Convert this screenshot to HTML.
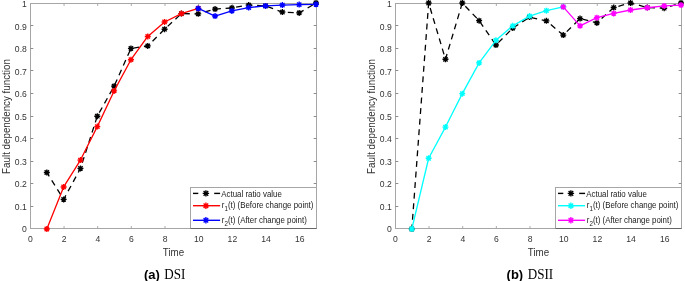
<!DOCTYPE html>
<html><head><meta charset="utf-8"><style>
html,body{margin:0;padding:0;background:#fff;}
body{width:685px;height:281px;overflow:hidden;}
svg{display:block;will-change:transform;}
.tk{font-family:"Liberation Sans",sans-serif;font-size:8.6px;fill:#333333;}
.lb{font-family:"Liberation Sans",sans-serif;font-size:9.8px;fill:#333333;}
.lg{font-family:"Liberation Sans",sans-serif;font-size:7.9px;fill:#1a1a1a;}
.cap{font-family:"Liberation Serif",serif;font-size:13.1px;fill:#000;}
.capb{font-family:"Liberation Sans",sans-serif;font-weight:bold;font-size:13px;fill:#000;}
</style></head><body>
<svg width="685" height="281" viewBox="0 0 685 281">
<rect x="30.5" y="3.5" width="286.0" height="225.0" fill="none" stroke="#a6a6a6" stroke-width="1"/><text transform="translate(26.80,232.20) scale(1,1.13)" text-anchor="end" class="tk">0</text><line x1="30.5" y1="206.50" x2="33.3" y2="206.50" stroke="#8c8c8c"/><line x1="316.5" y1="206.50" x2="313.7" y2="206.50" stroke="#8c8c8c"/><text transform="translate(26.80,209.70) scale(1,1.13)" text-anchor="end" class="tk">0.1</text><line x1="30.5" y1="183.50" x2="33.3" y2="183.50" stroke="#8c8c8c"/><line x1="316.5" y1="183.50" x2="313.7" y2="183.50" stroke="#8c8c8c"/><text transform="translate(26.80,187.20) scale(1,1.13)" text-anchor="end" class="tk">0.2</text><line x1="30.5" y1="161.50" x2="33.3" y2="161.50" stroke="#8c8c8c"/><line x1="316.5" y1="161.50" x2="313.7" y2="161.50" stroke="#8c8c8c"/><text transform="translate(26.80,164.70) scale(1,1.13)" text-anchor="end" class="tk">0.3</text><line x1="30.5" y1="138.50" x2="33.3" y2="138.50" stroke="#8c8c8c"/><line x1="316.5" y1="138.50" x2="313.7" y2="138.50" stroke="#8c8c8c"/><text transform="translate(26.80,142.20) scale(1,1.13)" text-anchor="end" class="tk">0.4</text><line x1="30.5" y1="116.50" x2="33.3" y2="116.50" stroke="#8c8c8c"/><line x1="316.5" y1="116.50" x2="313.7" y2="116.50" stroke="#8c8c8c"/><text transform="translate(26.80,119.70) scale(1,1.13)" text-anchor="end" class="tk">0.5</text><line x1="30.5" y1="93.50" x2="33.3" y2="93.50" stroke="#8c8c8c"/><line x1="316.5" y1="93.50" x2="313.7" y2="93.50" stroke="#8c8c8c"/><text transform="translate(26.80,97.20) scale(1,1.13)" text-anchor="end" class="tk">0.6</text><line x1="30.5" y1="70.50" x2="33.3" y2="70.50" stroke="#8c8c8c"/><line x1="316.5" y1="70.50" x2="313.7" y2="70.50" stroke="#8c8c8c"/><text transform="translate(26.80,74.70) scale(1,1.13)" text-anchor="end" class="tk">0.7</text><line x1="30.5" y1="48.50" x2="33.3" y2="48.50" stroke="#8c8c8c"/><line x1="316.5" y1="48.50" x2="313.7" y2="48.50" stroke="#8c8c8c"/><text transform="translate(26.80,52.20) scale(1,1.13)" text-anchor="end" class="tk">0.8</text><line x1="30.5" y1="25.50" x2="33.3" y2="25.50" stroke="#8c8c8c"/><line x1="316.5" y1="25.50" x2="313.7" y2="25.50" stroke="#8c8c8c"/><text transform="translate(26.80,29.70) scale(1,1.13)" text-anchor="end" class="tk">0.9</text><text transform="translate(26.80,7.20) scale(1,1.13)" text-anchor="end" class="tk">1</text><text transform="translate(30.50,241.70) scale(1,1.13)" text-anchor="middle" class="tk">0</text><line x1="64.05" y1="228.5" x2="64.05" y2="226.1" stroke="#a6a6a6"/><line x1="64.05" y1="3.5" x2="64.05" y2="5.9" stroke="#a6a6a6"/><text transform="translate(64.15,241.70) scale(1,1.13)" text-anchor="middle" class="tk">2</text><line x1="97.69" y1="228.5" x2="97.69" y2="226.1" stroke="#a6a6a6"/><line x1="97.69" y1="3.5" x2="97.69" y2="5.9" stroke="#a6a6a6"/><text transform="translate(97.79,241.70) scale(1,1.13)" text-anchor="middle" class="tk">4</text><line x1="131.34" y1="228.5" x2="131.34" y2="226.1" stroke="#a6a6a6"/><line x1="131.34" y1="3.5" x2="131.34" y2="5.9" stroke="#a6a6a6"/><text transform="translate(131.44,241.70) scale(1,1.13)" text-anchor="middle" class="tk">6</text><line x1="164.99" y1="228.5" x2="164.99" y2="226.1" stroke="#a6a6a6"/><line x1="164.99" y1="3.5" x2="164.99" y2="5.9" stroke="#a6a6a6"/><text transform="translate(165.09,241.70) scale(1,1.13)" text-anchor="middle" class="tk">8</text><line x1="198.64" y1="228.5" x2="198.64" y2="226.1" stroke="#a6a6a6"/><line x1="198.64" y1="3.5" x2="198.64" y2="5.9" stroke="#a6a6a6"/><text transform="translate(198.74,241.70) scale(1,1.13)" text-anchor="middle" class="tk">10</text><line x1="232.28" y1="228.5" x2="232.28" y2="226.1" stroke="#a6a6a6"/><line x1="232.28" y1="3.5" x2="232.28" y2="5.9" stroke="#a6a6a6"/><text transform="translate(232.38,241.70) scale(1,1.13)" text-anchor="middle" class="tk">12</text><line x1="265.93" y1="228.5" x2="265.93" y2="226.1" stroke="#a6a6a6"/><line x1="265.93" y1="3.5" x2="265.93" y2="5.9" stroke="#a6a6a6"/><text transform="translate(266.03,241.70) scale(1,1.13)" text-anchor="middle" class="tk">14</text><line x1="299.58" y1="228.5" x2="299.58" y2="226.1" stroke="#a6a6a6"/><line x1="299.58" y1="3.5" x2="299.58" y2="5.9" stroke="#a6a6a6"/><text transform="translate(299.68,241.70) scale(1,1.13)" text-anchor="middle" class="tk">16</text><text transform="translate(173.50,255.6) scale(1,1.09)" text-anchor="middle" class="lb">Time</text><text x="0" y="0" transform="translate(10.40,116.50) rotate(-90) scale(1,1.18)" text-anchor="middle" class="lb">Fault dependency function</text><polyline points="46.82,172.50 63.65,199.39 80.47,168.43 97.29,116.23 114.12,86.17 130.94,48.43 147.76,45.94 164.59,29.22 181.41,13.62 198.24,13.85 215.06,9.10 231.88,7.97 248.71,5.03 265.53,5.94 282.35,12.04 299.18,12.94 316.00,3.00" fill="none" stroke="#000" stroke-width="1.3" stroke-dasharray="5.9,4.7" stroke-dashoffset="1.3" stroke-linejoin="round"/><path d="M43.82,172.50H49.82M46.82,169.50V175.50M44.66,170.34L48.98,174.66M44.66,174.66L48.98,170.34" stroke="#000" stroke-width="1.35" fill="none"/><circle cx="46.82" cy="172.50" r="1.50" fill="#000"/><path d="M60.65,199.39H66.65M63.65,196.39V202.39M61.49,197.23L65.81,201.55M61.49,201.55L65.81,197.23" stroke="#000" stroke-width="1.35" fill="none"/><circle cx="63.65" cy="199.39" r="1.50" fill="#000"/><path d="M77.47,168.43H83.47M80.47,165.43V171.43M78.31,166.27L82.63,170.59M78.31,170.59L82.63,166.27" stroke="#000" stroke-width="1.35" fill="none"/><circle cx="80.47" cy="168.43" r="1.50" fill="#000"/><path d="M94.29,116.23H100.29M97.29,113.23V119.23M95.13,114.07L99.45,118.39M95.13,118.39L99.45,114.07" stroke="#000" stroke-width="1.35" fill="none"/><circle cx="97.29" cy="116.23" r="1.50" fill="#000"/><path d="M111.12,86.17H117.12M114.12,83.17V89.17M111.96,84.01L116.28,88.33M111.96,88.33L116.28,84.01" stroke="#000" stroke-width="1.35" fill="none"/><circle cx="114.12" cy="86.17" r="1.50" fill="#000"/><path d="M127.94,48.43H133.94M130.94,45.43V51.43M128.78,46.27L133.10,50.59M128.78,50.59L133.10,46.27" stroke="#000" stroke-width="1.35" fill="none"/><circle cx="130.94" cy="48.43" r="1.50" fill="#000"/><path d="M144.76,45.94H150.76M147.76,42.94V48.94M145.60,43.78L149.92,48.10M145.60,48.10L149.92,43.78" stroke="#000" stroke-width="1.35" fill="none"/><circle cx="147.76" cy="45.94" r="1.50" fill="#000"/><path d="M161.59,29.22H167.59M164.59,26.22V32.22M162.43,27.06L166.75,31.38M162.43,31.38L166.75,27.06" stroke="#000" stroke-width="1.35" fill="none"/><circle cx="164.59" cy="29.22" r="1.50" fill="#000"/><path d="M178.41,13.62H184.41M181.41,10.62V16.62M179.25,11.46L183.57,15.78M179.25,15.78L183.57,11.46" stroke="#000" stroke-width="1.35" fill="none"/><circle cx="181.41" cy="13.62" r="1.50" fill="#000"/><path d="M195.24,13.85H201.24M198.24,10.85V16.85M196.08,11.69L200.40,16.01M196.08,16.01L200.40,11.69" stroke="#000" stroke-width="1.35" fill="none"/><circle cx="198.24" cy="13.85" r="1.50" fill="#000"/><path d="M212.06,9.10H218.06M215.06,6.10V12.10M212.90,6.94L217.22,11.26M212.90,11.26L217.22,6.94" stroke="#000" stroke-width="1.35" fill="none"/><circle cx="215.06" cy="9.10" r="1.50" fill="#000"/><path d="M228.88,7.97H234.88M231.88,4.97V10.97M229.72,5.81L234.04,10.13M229.72,10.13L234.04,5.81" stroke="#000" stroke-width="1.35" fill="none"/><circle cx="231.88" cy="7.97" r="1.50" fill="#000"/><path d="M245.71,5.03H251.71M248.71,2.03V8.03M246.55,2.87L250.87,7.19M246.55,7.19L250.87,2.87" stroke="#000" stroke-width="1.35" fill="none"/><circle cx="248.71" cy="5.03" r="1.50" fill="#000"/><path d="M262.53,5.94H268.53M265.53,2.94V8.94M263.37,3.78L267.69,8.10M263.37,8.10L267.69,3.78" stroke="#000" stroke-width="1.35" fill="none"/><circle cx="265.53" cy="5.94" r="1.50" fill="#000"/><path d="M279.35,12.04H285.35M282.35,9.04V15.04M280.19,9.88L284.51,14.20M280.19,14.20L284.51,9.88" stroke="#000" stroke-width="1.35" fill="none"/><circle cx="282.35" cy="12.04" r="1.50" fill="#000"/><path d="M296.18,12.94H302.18M299.18,9.94V15.94M297.02,10.78L301.34,15.10M297.02,15.10L301.34,10.78" stroke="#000" stroke-width="1.35" fill="none"/><circle cx="299.18" cy="12.94" r="1.50" fill="#000"/><path d="M313.00,3.00H319.00M316.00,0.00V6.00M313.84,0.84L318.16,5.16M313.84,5.16L318.16,0.84" stroke="#000" stroke-width="1.35" fill="none"/><circle cx="316.00" cy="3.00" r="1.50" fill="#000"/><polyline points="46.82,229.00 63.65,186.96 80.47,160.07 97.29,126.62 114.12,90.91 130.94,59.73 147.76,36.45 164.59,21.98 181.41,13.62 198.24,8.42" fill="none" stroke="#ff0000" stroke-width="1.3" stroke-linejoin="round"/><path d="M43.82,229.00H49.82M46.82,226.00V232.00M44.66,226.84L48.98,231.16M44.66,231.16L48.98,226.84" stroke="#ff0000" stroke-width="1.35" fill="none"/><circle cx="46.82" cy="229.00" r="1.50" fill="#ff0000"/><path d="M60.65,186.96H66.65M63.65,183.96V189.96M61.49,184.80L65.81,189.12M61.49,189.12L65.81,184.80" stroke="#ff0000" stroke-width="1.35" fill="none"/><circle cx="63.65" cy="186.96" r="1.50" fill="#ff0000"/><path d="M77.47,160.07H83.47M80.47,157.07V163.07M78.31,157.91L82.63,162.23M78.31,162.23L82.63,157.91" stroke="#ff0000" stroke-width="1.35" fill="none"/><circle cx="80.47" cy="160.07" r="1.50" fill="#ff0000"/><path d="M94.29,126.62H100.29M97.29,123.62V129.62M95.13,124.46L99.45,128.78M95.13,128.78L99.45,124.46" stroke="#ff0000" stroke-width="1.35" fill="none"/><circle cx="97.29" cy="126.62" r="1.50" fill="#ff0000"/><path d="M111.12,90.91H117.12M114.12,87.91V93.91M111.96,88.75L116.28,93.07M111.96,93.07L116.28,88.75" stroke="#ff0000" stroke-width="1.35" fill="none"/><circle cx="114.12" cy="90.91" r="1.50" fill="#ff0000"/><path d="M127.94,59.73H133.94M130.94,56.73V62.73M128.78,57.57L133.10,61.89M128.78,61.89L133.10,57.57" stroke="#ff0000" stroke-width="1.35" fill="none"/><circle cx="130.94" cy="59.73" r="1.50" fill="#ff0000"/><path d="M144.76,36.45H150.76M147.76,33.45V39.45M145.60,34.29L149.92,38.61M145.60,38.61L149.92,34.29" stroke="#ff0000" stroke-width="1.35" fill="none"/><circle cx="147.76" cy="36.45" r="1.50" fill="#ff0000"/><path d="M161.59,21.98H167.59M164.59,18.98V24.98M162.43,19.82L166.75,24.14M162.43,24.14L166.75,19.82" stroke="#ff0000" stroke-width="1.35" fill="none"/><circle cx="164.59" cy="21.98" r="1.50" fill="#ff0000"/><path d="M178.41,13.62H184.41M181.41,10.62V16.62M179.25,11.46L183.57,15.78M179.25,15.78L183.57,11.46" stroke="#ff0000" stroke-width="1.35" fill="none"/><circle cx="181.41" cy="13.62" r="1.50" fill="#ff0000"/><path d="M195.24,8.42H201.24M198.24,5.42V11.42M196.08,6.26L200.40,10.58M196.08,10.58L200.40,6.26" stroke="#ff0000" stroke-width="1.35" fill="none"/><circle cx="198.24" cy="8.42" r="1.50" fill="#ff0000"/><polyline points="198.24,8.42 215.06,16.11 231.88,10.91 248.71,7.52 265.53,5.94 282.35,5.03 299.18,4.58 316.00,4.36" fill="none" stroke="#0000ff" stroke-width="1.3" stroke-linejoin="round"/><path d="M195.24,8.42H201.24M198.24,5.42V11.42M196.08,6.26L200.40,10.58M196.08,10.58L200.40,6.26" stroke="#0000ff" stroke-width="1.35" fill="none"/><circle cx="198.24" cy="8.42" r="1.50" fill="#0000ff"/><path d="M212.06,16.11H218.06M215.06,13.11V19.11M212.90,13.95L217.22,18.27M212.90,18.27L217.22,13.95" stroke="#0000ff" stroke-width="1.35" fill="none"/><circle cx="215.06" cy="16.11" r="1.50" fill="#0000ff"/><path d="M228.88,10.91H234.88M231.88,7.91V13.91M229.72,8.75L234.04,13.07M229.72,13.07L234.04,8.75" stroke="#0000ff" stroke-width="1.35" fill="none"/><circle cx="231.88" cy="10.91" r="1.50" fill="#0000ff"/><path d="M245.71,7.52H251.71M248.71,4.52V10.52M246.55,5.36L250.87,9.68M246.55,9.68L250.87,5.36" stroke="#0000ff" stroke-width="1.35" fill="none"/><circle cx="248.71" cy="7.52" r="1.50" fill="#0000ff"/><path d="M262.53,5.94H268.53M265.53,2.94V8.94M263.37,3.78L267.69,8.10M263.37,8.10L267.69,3.78" stroke="#0000ff" stroke-width="1.35" fill="none"/><circle cx="265.53" cy="5.94" r="1.50" fill="#0000ff"/><path d="M279.35,5.03H285.35M282.35,2.03V8.03M280.19,2.87L284.51,7.19M280.19,7.19L284.51,2.87" stroke="#0000ff" stroke-width="1.35" fill="none"/><circle cx="282.35" cy="5.03" r="1.50" fill="#0000ff"/><path d="M296.18,4.58H302.18M299.18,1.58V7.58M297.02,2.42L301.34,6.74M297.02,6.74L301.34,2.42" stroke="#0000ff" stroke-width="1.35" fill="none"/><circle cx="299.18" cy="4.58" r="1.50" fill="#0000ff"/><path d="M313.00,4.36H319.00M316.00,1.36V7.36M313.84,2.20L318.16,6.52M313.84,6.52L318.16,2.20" stroke="#0000ff" stroke-width="1.35" fill="none"/><circle cx="316.00" cy="4.36" r="1.50" fill="#0000ff"/><rect x="190.5" y="187.5" width="126.0" height="41" fill="#fff" stroke="#a6a6a6" stroke-width="1"/><line x1="190.5" y1="228.5" x2="316.5" y2="228.5" stroke="#666" stroke-width="1"/><line x1="193.0" y1="193.4" x2="198.3" y2="193.4" stroke="#000" stroke-width="1.4"/><line x1="214.2" y1="193.4" x2="220.1" y2="193.4" stroke="#000" stroke-width="1.4"/><path d="M202.70,193.40H209.10M205.90,190.20V196.60M203.60,191.10L208.20,195.70M203.60,195.70L208.20,191.10" stroke="#000" stroke-width="1.35" fill="none"/><circle cx="205.90" cy="193.40" r="1.60" fill="#000"/><text transform="translate(221.30,196.80) scale(1,1.12)" class="lg">Actual ratio value</text><line x1="193.0" y1="205.7" x2="220.1" y2="205.7" stroke="#ff0000" stroke-width="1.4"/><path d="M202.70,205.70H209.10M205.90,202.50V208.90M203.60,203.40L208.20,208.00M203.60,208.00L208.20,203.40" stroke="#ff0000" stroke-width="1.35" fill="none"/><circle cx="205.90" cy="205.70" r="1.60" fill="#ff0000"/><text transform="translate(221.80,207.90) scale(1,1.12)" class="lg">r<tspan dy="3.2" font-size="6.2">1</tspan><tspan dy="-3.2">(t) (Before change point)</tspan></text><line x1="193.0" y1="220.3" x2="220.1" y2="220.3" stroke="#0000ff" stroke-width="1.4"/><path d="M202.70,220.30H209.10M205.90,217.10V223.50M203.60,218.00L208.20,222.60M203.60,222.60L208.20,218.00" stroke="#0000ff" stroke-width="1.35" fill="none"/><circle cx="205.90" cy="220.30" r="1.60" fill="#0000ff"/><text transform="translate(221.80,222.50) scale(1,1.12)" class="lg">r<tspan dy="3.2" font-size="6.2">2</tspan><tspan dy="-3.2">(t) (After change point)</tspan></text><rect x="395.5" y="3.5" width="286.0" height="225.0" fill="none" stroke="#a6a6a6" stroke-width="1"/><text transform="translate(391.80,232.20) scale(1,1.13)" text-anchor="end" class="tk">0</text><line x1="395.5" y1="206.50" x2="398.3" y2="206.50" stroke="#8c8c8c"/><line x1="681.5" y1="206.50" x2="678.7" y2="206.50" stroke="#8c8c8c"/><text transform="translate(391.80,209.70) scale(1,1.13)" text-anchor="end" class="tk">0.1</text><line x1="395.5" y1="183.50" x2="398.3" y2="183.50" stroke="#8c8c8c"/><line x1="681.5" y1="183.50" x2="678.7" y2="183.50" stroke="#8c8c8c"/><text transform="translate(391.80,187.20) scale(1,1.13)" text-anchor="end" class="tk">0.2</text><line x1="395.5" y1="161.50" x2="398.3" y2="161.50" stroke="#8c8c8c"/><line x1="681.5" y1="161.50" x2="678.7" y2="161.50" stroke="#8c8c8c"/><text transform="translate(391.80,164.70) scale(1,1.13)" text-anchor="end" class="tk">0.3</text><line x1="395.5" y1="138.50" x2="398.3" y2="138.50" stroke="#8c8c8c"/><line x1="681.5" y1="138.50" x2="678.7" y2="138.50" stroke="#8c8c8c"/><text transform="translate(391.80,142.20) scale(1,1.13)" text-anchor="end" class="tk">0.4</text><line x1="395.5" y1="116.50" x2="398.3" y2="116.50" stroke="#8c8c8c"/><line x1="681.5" y1="116.50" x2="678.7" y2="116.50" stroke="#8c8c8c"/><text transform="translate(391.80,119.70) scale(1,1.13)" text-anchor="end" class="tk">0.5</text><line x1="395.5" y1="93.50" x2="398.3" y2="93.50" stroke="#8c8c8c"/><line x1="681.5" y1="93.50" x2="678.7" y2="93.50" stroke="#8c8c8c"/><text transform="translate(391.80,97.20) scale(1,1.13)" text-anchor="end" class="tk">0.6</text><line x1="395.5" y1="70.50" x2="398.3" y2="70.50" stroke="#8c8c8c"/><line x1="681.5" y1="70.50" x2="678.7" y2="70.50" stroke="#8c8c8c"/><text transform="translate(391.80,74.70) scale(1,1.13)" text-anchor="end" class="tk">0.7</text><line x1="395.5" y1="48.50" x2="398.3" y2="48.50" stroke="#8c8c8c"/><line x1="681.5" y1="48.50" x2="678.7" y2="48.50" stroke="#8c8c8c"/><text transform="translate(391.80,52.20) scale(1,1.13)" text-anchor="end" class="tk">0.8</text><line x1="395.5" y1="25.50" x2="398.3" y2="25.50" stroke="#8c8c8c"/><line x1="681.5" y1="25.50" x2="678.7" y2="25.50" stroke="#8c8c8c"/><text transform="translate(391.80,29.70) scale(1,1.13)" text-anchor="end" class="tk">0.9</text><text transform="translate(391.80,7.20) scale(1,1.13)" text-anchor="end" class="tk">1</text><text transform="translate(395.50,241.70) scale(1,1.13)" text-anchor="middle" class="tk">0</text><line x1="429.05" y1="228.5" x2="429.05" y2="226.1" stroke="#a6a6a6"/><line x1="429.05" y1="3.5" x2="429.05" y2="5.9" stroke="#a6a6a6"/><text transform="translate(429.15,241.70) scale(1,1.13)" text-anchor="middle" class="tk">2</text><line x1="462.69" y1="228.5" x2="462.69" y2="226.1" stroke="#a6a6a6"/><line x1="462.69" y1="3.5" x2="462.69" y2="5.9" stroke="#a6a6a6"/><text transform="translate(462.79,241.70) scale(1,1.13)" text-anchor="middle" class="tk">4</text><line x1="496.34" y1="228.5" x2="496.34" y2="226.1" stroke="#a6a6a6"/><line x1="496.34" y1="3.5" x2="496.34" y2="5.9" stroke="#a6a6a6"/><text transform="translate(496.44,241.70) scale(1,1.13)" text-anchor="middle" class="tk">6</text><line x1="529.99" y1="228.5" x2="529.99" y2="226.1" stroke="#a6a6a6"/><line x1="529.99" y1="3.5" x2="529.99" y2="5.9" stroke="#a6a6a6"/><text transform="translate(530.09,241.70) scale(1,1.13)" text-anchor="middle" class="tk">8</text><line x1="563.64" y1="228.5" x2="563.64" y2="226.1" stroke="#a6a6a6"/><line x1="563.64" y1="3.5" x2="563.64" y2="5.9" stroke="#a6a6a6"/><text transform="translate(563.74,241.70) scale(1,1.13)" text-anchor="middle" class="tk">10</text><line x1="597.28" y1="228.5" x2="597.28" y2="226.1" stroke="#a6a6a6"/><line x1="597.28" y1="3.5" x2="597.28" y2="5.9" stroke="#a6a6a6"/><text transform="translate(597.38,241.70) scale(1,1.13)" text-anchor="middle" class="tk">12</text><line x1="630.93" y1="228.5" x2="630.93" y2="226.1" stroke="#a6a6a6"/><line x1="630.93" y1="3.5" x2="630.93" y2="5.9" stroke="#a6a6a6"/><text transform="translate(631.03,241.70) scale(1,1.13)" text-anchor="middle" class="tk">14</text><line x1="664.58" y1="228.5" x2="664.58" y2="226.1" stroke="#a6a6a6"/><line x1="664.58" y1="3.5" x2="664.58" y2="5.9" stroke="#a6a6a6"/><text transform="translate(664.68,241.70) scale(1,1.13)" text-anchor="middle" class="tk">16</text><text transform="translate(538.50,255.6) scale(1,1.09)" text-anchor="middle" class="lb">Time</text><text x="0" y="0" transform="translate(375.40,116.50) rotate(-90) scale(1,1.18)" text-anchor="middle" class="lb">Fault dependency function</text><polyline points="411.82,229.00 428.65,3.00 445.47,59.27 462.29,3.00 479.12,20.63 495.94,45.04 512.76,28.09 529.59,17.12 546.41,20.85 563.24,35.09 580.06,18.59 596.88,22.89 613.71,7.52 630.53,3.00 647.35,7.52 664.18,8.20 681.00,3.00" fill="none" stroke="#000" stroke-width="1.3" stroke-dasharray="5.9,4.7" stroke-dashoffset="1.3" stroke-linejoin="round"/><path d="M408.82,229.00H414.82M411.82,226.00V232.00M409.66,226.84L413.98,231.16M409.66,231.16L413.98,226.84" stroke="#000" stroke-width="1.35" fill="none"/><circle cx="411.82" cy="229.00" r="1.50" fill="#000"/><path d="M425.65,3.00H431.65M428.65,0.00V6.00M426.49,0.84L430.81,5.16M426.49,5.16L430.81,0.84" stroke="#000" stroke-width="1.35" fill="none"/><circle cx="428.65" cy="3.00" r="1.50" fill="#000"/><path d="M442.47,59.27H448.47M445.47,56.27V62.27M443.31,57.11L447.63,61.43M443.31,61.43L447.63,57.11" stroke="#000" stroke-width="1.35" fill="none"/><circle cx="445.47" cy="59.27" r="1.50" fill="#000"/><path d="M459.29,3.00H465.29M462.29,0.00V6.00M460.13,0.84L464.45,5.16M460.13,5.16L464.45,0.84" stroke="#000" stroke-width="1.35" fill="none"/><circle cx="462.29" cy="3.00" r="1.50" fill="#000"/><path d="M476.12,20.63H482.12M479.12,17.63V23.63M476.96,18.47L481.28,22.79M476.96,22.79L481.28,18.47" stroke="#000" stroke-width="1.35" fill="none"/><circle cx="479.12" cy="20.63" r="1.50" fill="#000"/><path d="M492.94,45.04H498.94M495.94,42.04V48.04M493.78,42.88L498.10,47.20M493.78,47.20L498.10,42.88" stroke="#000" stroke-width="1.35" fill="none"/><circle cx="495.94" cy="45.04" r="1.50" fill="#000"/><path d="M509.76,28.09H515.76M512.76,25.09V31.09M510.60,25.93L514.92,30.25M510.60,30.25L514.92,25.93" stroke="#000" stroke-width="1.35" fill="none"/><circle cx="512.76" cy="28.09" r="1.50" fill="#000"/><path d="M526.59,17.12H532.59M529.59,14.12V20.12M527.43,14.96L531.75,19.29M527.43,19.29L531.75,14.96" stroke="#000" stroke-width="1.35" fill="none"/><circle cx="529.59" cy="17.12" r="1.50" fill="#000"/><path d="M543.41,20.85H549.41M546.41,17.85V23.85M544.25,18.69L548.57,23.01M544.25,23.01L548.57,18.69" stroke="#000" stroke-width="1.35" fill="none"/><circle cx="546.41" cy="20.85" r="1.50" fill="#000"/><path d="M560.24,35.09H566.24M563.24,32.09V38.09M561.08,32.93L565.40,37.25M561.08,37.25L565.40,32.93" stroke="#000" stroke-width="1.35" fill="none"/><circle cx="563.24" cy="35.09" r="1.50" fill="#000"/><path d="M577.06,18.59H583.06M580.06,15.59V21.59M577.90,16.43L582.22,20.75M577.90,20.75L582.22,16.43" stroke="#000" stroke-width="1.35" fill="none"/><circle cx="580.06" cy="18.59" r="1.50" fill="#000"/><path d="M593.88,22.89H599.88M596.88,19.89V25.89M594.72,20.73L599.04,25.05M594.72,25.05L599.04,20.73" stroke="#000" stroke-width="1.35" fill="none"/><circle cx="596.88" cy="22.89" r="1.50" fill="#000"/><path d="M610.71,7.52H616.71M613.71,4.52V10.52M611.55,5.36L615.87,9.68M611.55,9.68L615.87,5.36" stroke="#000" stroke-width="1.35" fill="none"/><circle cx="613.71" cy="7.52" r="1.50" fill="#000"/><path d="M627.53,3.00H633.53M630.53,0.00V6.00M628.37,0.84L632.69,5.16M628.37,5.16L632.69,0.84" stroke="#000" stroke-width="1.35" fill="none"/><circle cx="630.53" cy="3.00" r="1.50" fill="#000"/><path d="M644.35,7.52H650.35M647.35,4.52V10.52M645.19,5.36L649.51,9.68M645.19,9.68L649.51,5.36" stroke="#000" stroke-width="1.35" fill="none"/><circle cx="647.35" cy="7.52" r="1.50" fill="#000"/><path d="M661.18,8.20H667.18M664.18,5.20V11.20M662.02,6.04L666.34,10.36M662.02,10.36L666.34,6.04" stroke="#000" stroke-width="1.35" fill="none"/><circle cx="664.18" cy="8.20" r="1.50" fill="#000"/><path d="M678.00,3.00H684.00M681.00,0.00V6.00M678.84,0.84L683.16,5.16M678.84,5.16L683.16,0.84" stroke="#000" stroke-width="1.35" fill="none"/><circle cx="681.00" cy="3.00" r="1.50" fill="#000"/><polyline points="411.82,229.00 428.65,158.26 445.47,127.07 462.29,93.63 479.12,62.89 495.94,40.29 512.76,25.83 529.59,16.11 546.41,10.68 563.24,6.84" fill="none" stroke="#00ffff" stroke-width="1.3" stroke-linejoin="round"/><path d="M408.82,229.00H414.82M411.82,226.00V232.00M409.66,226.84L413.98,231.16M409.66,231.16L413.98,226.84" stroke="#00ffff" stroke-width="1.35" fill="none"/><circle cx="411.82" cy="229.00" r="1.50" fill="#00ffff"/><path d="M425.65,158.26H431.65M428.65,155.26V161.26M426.49,156.10L430.81,160.42M426.49,160.42L430.81,156.10" stroke="#00ffff" stroke-width="1.35" fill="none"/><circle cx="428.65" cy="158.26" r="1.50" fill="#00ffff"/><path d="M442.47,127.07H448.47M445.47,124.07V130.07M443.31,124.91L447.63,129.23M443.31,129.23L447.63,124.91" stroke="#00ffff" stroke-width="1.35" fill="none"/><circle cx="445.47" cy="127.07" r="1.50" fill="#00ffff"/><path d="M459.29,93.63H465.29M462.29,90.63V96.63M460.13,91.47L464.45,95.79M460.13,95.79L464.45,91.47" stroke="#00ffff" stroke-width="1.35" fill="none"/><circle cx="462.29" cy="93.63" r="1.50" fill="#00ffff"/><path d="M476.12,62.89H482.12M479.12,59.89V65.89M476.96,60.73L481.28,65.05M476.96,65.05L481.28,60.73" stroke="#00ffff" stroke-width="1.35" fill="none"/><circle cx="479.12" cy="62.89" r="1.50" fill="#00ffff"/><path d="M492.94,40.29H498.94M495.94,37.29V43.29M493.78,38.13L498.10,42.45M493.78,42.45L498.10,38.13" stroke="#00ffff" stroke-width="1.35" fill="none"/><circle cx="495.94" cy="40.29" r="1.50" fill="#00ffff"/><path d="M509.76,25.83H515.76M512.76,22.83V28.83M510.60,23.67L514.92,27.99M510.60,27.99L514.92,23.67" stroke="#00ffff" stroke-width="1.35" fill="none"/><circle cx="512.76" cy="25.83" r="1.50" fill="#00ffff"/><path d="M526.59,16.11H532.59M529.59,13.11V19.11M527.43,13.95L531.75,18.27M527.43,18.27L531.75,13.95" stroke="#00ffff" stroke-width="1.35" fill="none"/><circle cx="529.59" cy="16.11" r="1.50" fill="#00ffff"/><path d="M543.41,10.68H549.41M546.41,7.68V13.68M544.25,8.52L548.57,12.84M544.25,12.84L548.57,8.52" stroke="#00ffff" stroke-width="1.35" fill="none"/><circle cx="546.41" cy="10.68" r="1.50" fill="#00ffff"/><path d="M560.24,6.84H566.24M563.24,3.84V9.84M561.08,4.68L565.40,9.00M561.08,9.00L565.40,4.68" stroke="#00ffff" stroke-width="1.35" fill="none"/><circle cx="563.24" cy="6.84" r="1.50" fill="#00ffff"/><polyline points="563.24,6.84 580.06,25.83 596.88,17.69 613.71,13.40 630.53,10.01 647.35,7.75 664.18,5.94 681.00,5.03" fill="none" stroke="#ff00ff" stroke-width="1.3" stroke-linejoin="round"/><path d="M560.24,6.84H566.24M563.24,3.84V9.84M561.08,4.68L565.40,9.00M561.08,9.00L565.40,4.68" stroke="#ff00ff" stroke-width="1.35" fill="none"/><circle cx="563.24" cy="6.84" r="1.50" fill="#ff00ff"/><path d="M577.06,25.83H583.06M580.06,22.83V28.83M577.90,23.67L582.22,27.99M577.90,27.99L582.22,23.67" stroke="#ff00ff" stroke-width="1.35" fill="none"/><circle cx="580.06" cy="25.83" r="1.50" fill="#ff00ff"/><path d="M593.88,17.69H599.88M596.88,14.69V20.69M594.72,15.53L599.04,19.85M594.72,19.85L599.04,15.53" stroke="#ff00ff" stroke-width="1.35" fill="none"/><circle cx="596.88" cy="17.69" r="1.50" fill="#ff00ff"/><path d="M610.71,13.40H616.71M613.71,10.40V16.40M611.55,11.24L615.87,15.56M611.55,15.56L615.87,11.24" stroke="#ff00ff" stroke-width="1.35" fill="none"/><circle cx="613.71" cy="13.40" r="1.50" fill="#ff00ff"/><path d="M627.53,10.01H633.53M630.53,7.01V13.01M628.37,7.85L632.69,12.17M628.37,12.17L632.69,7.85" stroke="#ff00ff" stroke-width="1.35" fill="none"/><circle cx="630.53" cy="10.01" r="1.50" fill="#ff00ff"/><path d="M644.35,7.75H650.35M647.35,4.75V10.75M645.19,5.59L649.51,9.91M645.19,9.91L649.51,5.59" stroke="#ff00ff" stroke-width="1.35" fill="none"/><circle cx="647.35" cy="7.75" r="1.50" fill="#ff00ff"/><path d="M661.18,5.94H667.18M664.18,2.94V8.94M662.02,3.78L666.34,8.10M662.02,8.10L666.34,3.78" stroke="#ff00ff" stroke-width="1.35" fill="none"/><circle cx="664.18" cy="5.94" r="1.50" fill="#ff00ff"/><path d="M678.00,5.03H684.00M681.00,2.03V8.03M678.84,2.87L683.16,7.19M678.84,7.19L683.16,2.87" stroke="#ff00ff" stroke-width="1.35" fill="none"/><circle cx="681.00" cy="5.03" r="1.50" fill="#ff00ff"/><rect x="555.5" y="187.5" width="126.0" height="41" fill="#fff" stroke="#a6a6a6" stroke-width="1"/><line x1="555.5" y1="228.5" x2="681.5" y2="228.5" stroke="#666" stroke-width="1"/><line x1="558.0" y1="193.4" x2="563.3" y2="193.4" stroke="#000" stroke-width="1.4"/><line x1="579.2" y1="193.4" x2="585.1" y2="193.4" stroke="#000" stroke-width="1.4"/><path d="M567.70,193.40H574.10M570.90,190.20V196.60M568.60,191.10L573.20,195.70M568.60,195.70L573.20,191.10" stroke="#000" stroke-width="1.35" fill="none"/><circle cx="570.90" cy="193.40" r="1.60" fill="#000"/><text transform="translate(586.30,196.80) scale(1,1.12)" class="lg">Actual ratio value</text><line x1="558.0" y1="205.7" x2="585.1" y2="205.7" stroke="#00ffff" stroke-width="1.4"/><path d="M567.70,205.70H574.10M570.90,202.50V208.90M568.60,203.40L573.20,208.00M568.60,208.00L573.20,203.40" stroke="#00ffff" stroke-width="1.35" fill="none"/><circle cx="570.90" cy="205.70" r="1.60" fill="#00ffff"/><text transform="translate(586.80,207.90) scale(1,1.12)" class="lg">r<tspan dy="3.2" font-size="6.2">1</tspan><tspan dy="-3.2">(t) (Before change point)</tspan></text><line x1="558.0" y1="220.3" x2="585.1" y2="220.3" stroke="#ff00ff" stroke-width="1.4"/><path d="M567.70,220.30H574.10M570.90,217.10V223.50M568.60,218.00L573.20,222.60M568.60,222.60L573.20,218.00" stroke="#ff00ff" stroke-width="1.35" fill="none"/><circle cx="570.90" cy="220.30" r="1.60" fill="#ff00ff"/><text transform="translate(586.80,222.50) scale(1,1.12)" class="lg">r<tspan dy="3.2" font-size="6.2">2</tspan><tspan dy="-3.2">(t) (After change point)</tspan></text><text transform="translate(144.0,278.9) scale(1,1.04)" class="capb">(a)</text><text transform="translate(164.2,278.9) scale(1,1.06)" class="cap">DSI</text><text transform="translate(506.6,278.9) scale(1,1.04)" class="capb">(b)</text><text transform="translate(527.7,278.9) scale(1,1.06)" class="cap">DSII</text>
</svg>
</body></html>
